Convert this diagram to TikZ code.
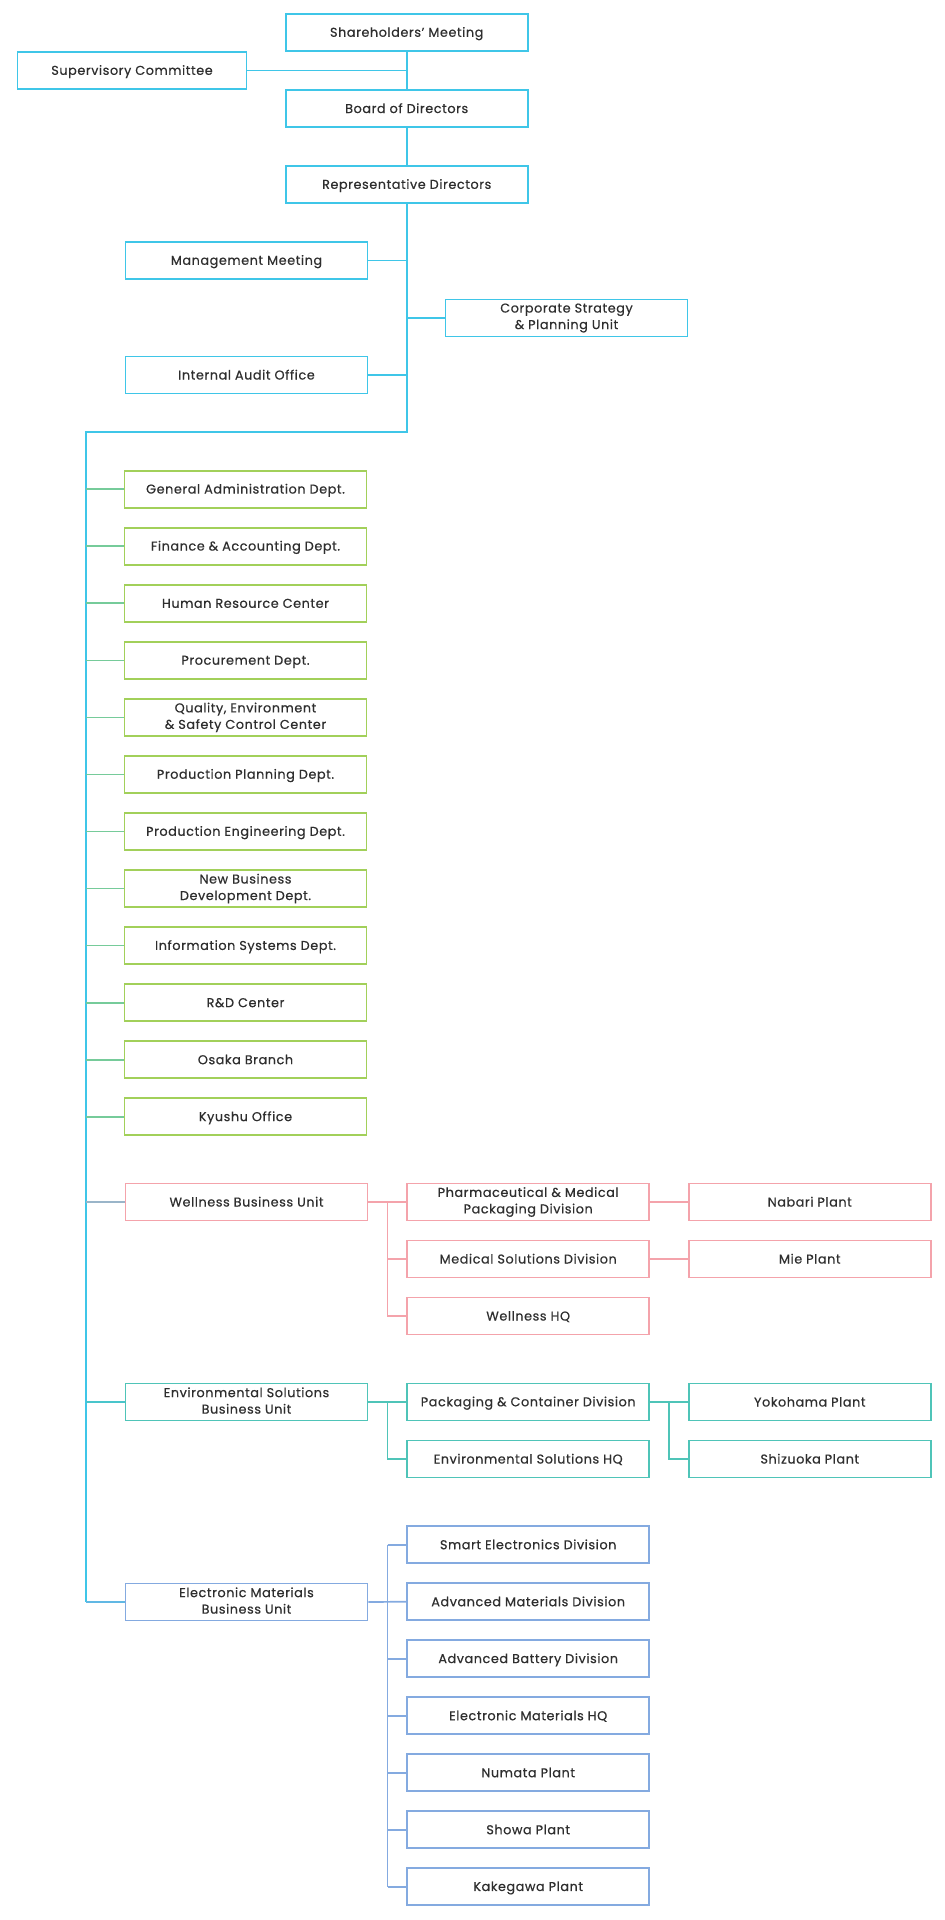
\documentclass[tikz,border=0pt]{standalone}
\usepackage{fontspec}
\setmainfont{Poppins}[LetterSpace=4.5, FakeBold=0.5]
\definecolor{cy}{HTML}{3FC6E8}
\definecolor{gr}{HTML}{A2D05A}
\definecolor{pk}{HTML}{F4A3AB}
\definecolor{tl}{HTML}{4FC4B8}
\definecolor{bl}{HTML}{84AAE0}
\definecolor{tx}{HTML}{2E2E2E}
\colorlet{cg}{cy!45!gr}
\colorlet{cp}{cy!50!pk}
\colorlet{ct}{cy!40!tl}
\colorlet{cb}{cy!50!bl}
\newcommand{\boxstrut}{\rule[-3pt]{0pt}{15pt}}
\begin{document}
\begin{tikzpicture}[x=1pt,y=-1pt,
  box/.style={draw=#1, line width=1.7pt, fill=white, minimum width=242pt, minimum height=37pt,
    inner sep=0pt, align=center, text=tx, font=\fontsize{12.8}{16.5}\selectfont,
    execute at begin node=\boxstrut, execute at end node=\boxstrut},
  ln/.style={line width=1.7pt}]
\useasboundingbox (0,0) rectangle (945,1920);
% top level
\node[box=cy] (sh) at (406.7,32.5) {Shareholders’ Meeting};
\node[box=cy, minimum width=229pt] (sup) at (132,70.5) {Supervisory Committee};
\node[box=cy] (bd) at (406.7,108.5) {Board of Directors};
\node[box=cy] (rep) at (406.7,184.5) {Representative Directors};
\node[box=cy] (mm) at (246.5,260.5) {Management Meeting};
\node[box=cy] (corp) at (566.5,318) {Corporate Strategy\\\& Planning Unit};
\node[box=cy] (aud) at (246.5,375) {Internal Audit Office};
% green departments
\foreach \n/\t [count=\i from 0] in {g1/General Administration Dept.,
  g2/Finance \& Accounting Dept.,
  g3/Human Resource Center,
  g4/Procurement Dept.,
  g5/{Quality, Environment\\\& Safety Control Center},
  g6/Production Planning Dept.,
  g7/Production Engineering Dept.,
  g8/New Business\\Development Dept.,
  g9/Information Systems Dept.,
  g10/R\&D Center,
  g11/Osaka Branch,
  g12/Kyushu Office}
  \node[box=gr] (\n) at (245.5,{489.2+57.05*\i}) {\t};
% wellness
\node[box=pk] (wb) at (246.5,1202) {Wellness Business Unit};
\node[box=pk] (ph) at (528.2,1202) {Pharmaceutical \& Medical\\Packaging Division};
\node[box=pk] (med) at (528.2,1259) {Medical Solutions Division};
\node[box=pk] (whq) at (528.2,1316) {Wellness HQ};
\node[box=pk] (nab) at (809.8,1202) {Nabari Plant};
\node[box=pk] (mie) at (809.8,1259) {Mie Plant};
% environmental
\node[box=tl] (eb) at (246.5,1402) {Environmental Solutions\\Business Unit};
\node[box=tl] (pkg) at (528.2,1402) {Packaging \& Container Division};
\node[box=tl] (ehq) at (528.2,1459) {Environmental Solutions HQ};
\node[box=tl] (yok) at (809.8,1402) {Yokohama Plant};
\node[box=tl] (shz) at (809.8,1459) {Shizuoka Plant};
% electronic materials
\node[box=bl] (em) at (246.5,1602) {Electronic Materials\\Business Unit};
\foreach \n/\t [count=\i from 0] in {s1/Smart Electronics Division,
  s2/Advanced Materials Division,
  s3/Advanced Battery Division,
  s4/Electronic Materials HQ,
  s5/Numata Plant,
  s6/Showa Plant,
  s7/Kakegawa Plant}
  \node[box=bl] (\n) at (528.2,{1544.7+57*\i}) {\t};
% connectors top
\draw[ln,cy] (sh) -- (bd);
\draw[ln,cy] (sup.east) -- (sup.east -| sh.south);
\draw[ln,cy] (bd) -- (rep);
\coordinate (top) at (406.7,432);
\coordinate (lt) at (86,432);
\draw[ln,cy] (rep.south) -- (top) -- (lt) -- (lt |- em.west);
\draw[ln,cy] (mm.east) -- (mm.east -| rep.south);
\draw[ln,cy] (aud.east) -- (aud.east -| rep.south);
\draw[ln,cy] (corp.west) -- (corp.west -| rep.south);
% connectors green
\foreach \n in {g1,g2,g3,g4,g5,g6,g7,g8,g9,g10,g11,g12}
  \draw[ln,cg] (\n.west -| lt) -- (\n.west);
% wellness connectors
\draw[ln,cp] (wb.west -| lt) -- (wb.west);
\coordinate (wj) at (387.6,1202);
\draw[ln,pk] (wb.east) -- (ph.west);
\draw[ln,pk] (wj) |- (med.west);
\draw[ln,pk] (wj) |- (whq.west);
\draw[ln,pk] (ph.east) -- (nab.west);
\draw[ln,pk] (med.east) -- (mie.west);
% environmental connectors
\draw[ln,ct] (eb.west -| lt) -- (eb.west);
\coordinate (ej) at (387.6,1402);
\draw[ln,tl] (eb.east) -- (pkg.west);
\draw[ln,tl] (ej) |- (ehq.west);
\coordinate (pj) at (669.3,1402);
\draw[ln,tl] (pkg.east) -- (yok.west);
\draw[ln,tl] (pj) |- (shz.west);
% electronic connectors
\draw[ln,cb] (em.west -| lt) -- (em.west);
\coordinate (mt) at (387.6,1544.7);
\coordinate (mb) at (387.6,1886.7);
\draw[ln,bl] (em.east) -- (s2.west);
\draw[ln,bl] (mt) -- (mb);
\foreach \n in {s1,s3,s4,s5,s6,s7}
  \draw[ln,bl] (mt |- \n.west) -- (\n.west);
\end{tikzpicture}
\end{document}
